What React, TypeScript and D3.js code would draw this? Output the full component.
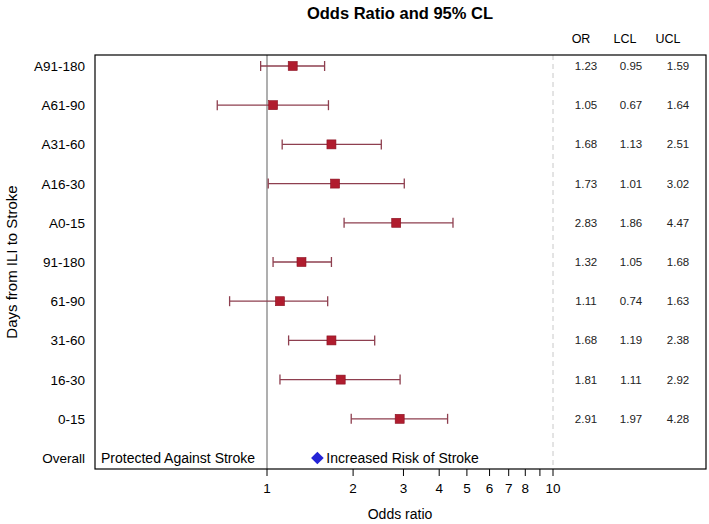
import React from "react";
import * as d3 from "d3";

const categories = ["A91-180", "A61-90", "A31-60", "A16-30", "A0-15", "91-180", "61-90", "31-60", "16-30", "0-15"];
const orValues = [1.23, 1.05, 1.68, 1.73, 2.83, 1.32, 1.11, 1.68, 1.81, 2.91];
const lclValues = [0.95, 0.67, 1.13, 1.01, 1.86, 1.05, 0.74, 1.19, 1.11, 1.97];
const uclValues = [1.59, 1.64, 2.51, 3.02, 4.47, 1.68, 1.63, 2.38, 2.92, 4.28];
const overallLabel = "Overall";
const overallOR = 1.5;
const xTicks = [1, 2, 3, 4, 5, 6, 7, 8, 9, 10];
const xTickLabels = ["1", "2", "3", "4", "5", "6", "7", "8", "", "10"];
const tableHeaders = ["OR", "LCL", "UCL"];

const W = 709;
const H = 524;
const FONT = "'Liberation Sans', Arial, Helvetica, sans-serif";

export default function App() {
  const box = { left: 95, right: 706, top: 55, bottom: 469 };
  const x = d3.scaleLog().domain([1, 10]).range([267, 553]);
  const rows = [...categories, overallLabel];
  const y = d3.scalePoint<string>().domain(rows).range([box.top, box.bottom]).padding(0.28);
  const colX = [586, 631, 678];
  const headX = [581, 625, 668];
  const capH = 10;
  const sq = 9;
  const lineColor = "#8e3f4f";
  const sqColor = "#b01c2e";
  const diamond = d3.symbol().type(d3.symbolSquare).size(80)();

  return (
    <div style={{ position: "fixed", left: 0, top: 0 }}>
      <svg width={W} height={H} style={{ display: "block", background: "#fff" }} fontFamily={FONT}>
        <text x={400} y={19} textAnchor="middle" fontSize={16.5} fontWeight="bold" fill="#000">
          Odds Ratio and 95% CL
        </text>
        {tableHeaders.map((h, i) => (
          <text key={h} x={headX[i]} y={43} textAnchor="middle" fontSize={12.5} fill="#000">
            {h}
          </text>
        ))}
        <line x1={x(1)} x2={x(1)} y1={box.top} y2={box.bottom} stroke="#7a7a7a" strokeWidth={1.2} />
        <line x1={x(10)} x2={x(10)} y1={box.top} y2={box.bottom} stroke="#c8c8c8" strokeWidth={1} strokeDasharray="5,4" />
        <rect x={box.left} y={box.top} width={box.right - box.left} height={box.bottom - box.top} fill="none" stroke="#000" strokeWidth={1.2} />
        {rows.map((r) => (
          <text key={r} x={85} y={(y(r) as number) + 5} textAnchor="end" fontSize={13.5} fill="#000">
            {r}
          </text>
        ))}
        {categories.map((c, i) => {
          const cy = y(c) as number;
          const x1 = x(lclValues[i]);
          const x2 = x(uclValues[i]);
          const cx = x(orValues[i]);
          return (
            <g key={c}>
              <line x1={x1} x2={x2} y1={cy} y2={cy} stroke={lineColor} strokeWidth={1.3} />
              <line x1={x1} x2={x1} y1={cy - capH / 2} y2={cy + capH / 2} stroke={lineColor} strokeWidth={1.3} />
              <line x1={x2} x2={x2} y1={cy - capH / 2} y2={cy + capH / 2} stroke={lineColor} strokeWidth={1.3} />
              <rect x={cx - sq / 2} y={cy - sq / 2} width={sq} height={sq} fill={sqColor} stroke="#8a1020" strokeWidth={0.6} />
              <text x={colX[0]} y={cy + 4} textAnchor="middle" fontSize={11.5} fill="#222">{orValues[i].toFixed(2)}</text>
              <text x={colX[1]} y={cy + 4} textAnchor="middle" fontSize={11.5} fill="#222">{lclValues[i].toFixed(2)}</text>
              <text x={colX[2]} y={cy + 4} textAnchor="middle" fontSize={11.5} fill="#222">{uclValues[i].toFixed(2)}</text>
            </g>
          );
        })}
        <text x={101} y={(y(overallLabel) as number) + 5} fontSize={14} fill="#000">Protected Against Stroke</text>
        <path d={diamond as string} transform={`translate(${x(overallOR)},${y(overallLabel)}) rotate(45)`} fill="#2424d6" />
        <text x={x(overallOR) + 9} y={(y(overallLabel) as number) + 5} fontSize={14} fill="#000">Increased Risk of Stroke</text>
        {xTicks.map((t, i) => (
          <g key={t}>
            <line x1={x(t)} x2={x(t)} y1={box.bottom} y2={box.bottom + 7} stroke="#000" strokeWidth={1} />
            <text x={x(t)} y={box.bottom + 24} textAnchor="middle" fontSize={13.5} fill="#000">{xTickLabels[i]}</text>
          </g>
        ))}
        <text x={400} y={519} textAnchor="middle" fontSize={14} fill="#000">Odds ratio</text>
        <text transform={`translate(17,${(box.top + box.bottom) / 2}) rotate(-90)`} textAnchor="middle" fontSize={15} fill="#000">
          Days from ILI to Stroke
        </text>
      </svg>
    </div>
  );
}
